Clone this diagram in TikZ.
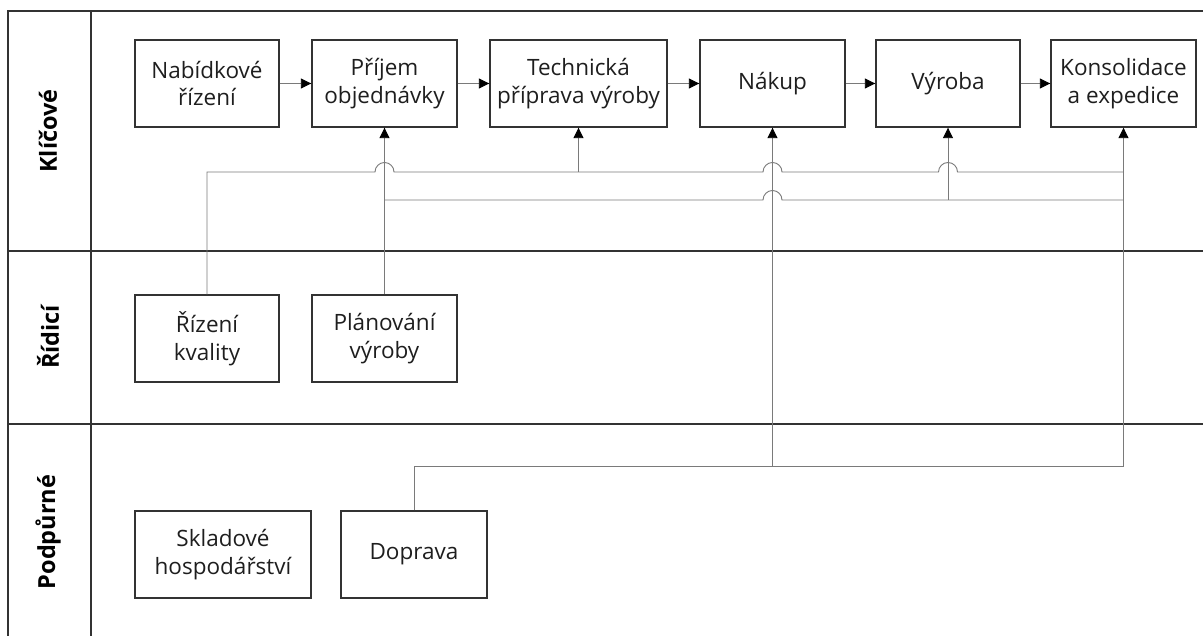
\documentclass[tikz,border=0pt]{standalone}
\usepackage{fontspec}
\setmainfont{Open Sans}
\usetikzlibrary{arrows.meta,calc}
\definecolor{framec}{HTML}{333333}
\definecolor{connc}{HTML}{7A7A7A}
\definecolor{textc}{HTML}{1E1E1E}
\tikzset{
  frameline/.style={line width=1.6pt, draw=framec},
  procbox/.style={draw=framec, line width=1.4pt, minimum height=87pt, inner sep=0pt,
    align=center, text=textc, font=\fontsize{22.5}{27.5}\selectfont},
  lanelabel/.style={rotate=90, font=\fontsize{23.5}{27}\selectfont\bfseries, text=black},
  conn/.style={line width=0.9pt, draw=connc},
  arr/.style={conn, -{Triangle[length=10.5pt,width=10pt,color=black]}},
}
\newcommand{\hopr}{9.5pt}
\begin{document}
\begin{tikzpicture}[x=1pt,y=-1pt]
\useasboundingbox (0,0) rectangle (1203,636);
% frame
\draw[frameline] (8,636) -- (8,11) -- (1203,11);
\draw[frameline] (91,11) -- (91,636);
\draw[frameline] (8,251) -- (1203,251);
\draw[frameline] (8,424) -- (1203,424);
% lane labels
\node[lanelabel] (l1) at (48,131) {Klíčové};
\node[lanelabel] (l2) at (48,337) {Řídicí};
\node[lanelabel] (l3) at (48,532) {Podpůrné};
% boxes
\node[procbox, minimum width=144pt] (nab) at (207,83.5) {Nabídkové\\řízení};
\node[procbox, minimum width=145pt] (pri) at (384.5,83.5) {Příjem\\objednávky};
\node[procbox, minimum width=177pt] (tech) at (578.5,83.5) {Technická\\příprava výroby};
\node[procbox, minimum width=145pt] (nak) at (772.5,83.5) {Nákup};
\node[procbox, minimum width=144pt] (vyr) at (948,83.5) {Výroba};
\node[procbox, minimum width=145pt] (kon) at (1123.5,83.5) {Konsolidace\\a expedice};
\node[procbox, minimum width=144pt] (riz) at (207,338.5) {Řízení\\kvality};
\node[procbox, minimum width=145pt] (plan) at (384.5,338.5) {Plánování\\výroby};
\node[procbox, minimum width=176pt] (skl) at (223,554.5) {Skladové\\hospodářství};
\node[procbox, minimum width=146pt] (dop) at (414,554.5) {Doprava};
% levels of connector rails
\coordinate (y1) at (0,172);
\coordinate (y2) at (0,200);
\coordinate (y3) at (0,466);
% chain arrows
\draw[arr] (nab) -- (pri);
\draw[arr] (pri) -- (tech);
\draw[arr] (tech) -- (nak);
\draw[arr] (nak) -- (vyr);
\draw[arr] (vyr) -- (kon);
% verticals into the key processes
\draw[arr] (plan.north) -- (pri.south);
\draw[arr] (tech.south |- y1) -- (tech.south);
\draw[arr] (nak.south |- y3) -- (nak.south);
\draw[arr] (vyr.south |- y2) -- (vyr.south);
\draw[arr] (kon.south |- y3) -- (kon.south);
% rail 1 from quality control
\draw[conn] (riz.north) |- ($(pri.south |- y1)+(-\hopr,0)$)
  arc[start angle=180,end angle=0,radius=\hopr]
  -- ($(nak.south |- y1)+(-\hopr,0)$)
  arc[start angle=180,end angle=0,radius=\hopr]
  -- ($(vyr.south |- y1)+(-\hopr,0)$)
  arc[start angle=180,end angle=0,radius=\hopr]
  -- (kon.south |- y1);
% rail 2 from production planning
\draw[conn] (pri.south |- y2) -- ($(nak.south |- y2)+(-\hopr,0)$)
  arc[start angle=180,end angle=0,radius=\hopr]
  -- (kon.south |- y2);
% rail 3 from transport
\draw[conn] (dop.north) |- (kon.south |- y3);
\end{tikzpicture}
\end{document}
